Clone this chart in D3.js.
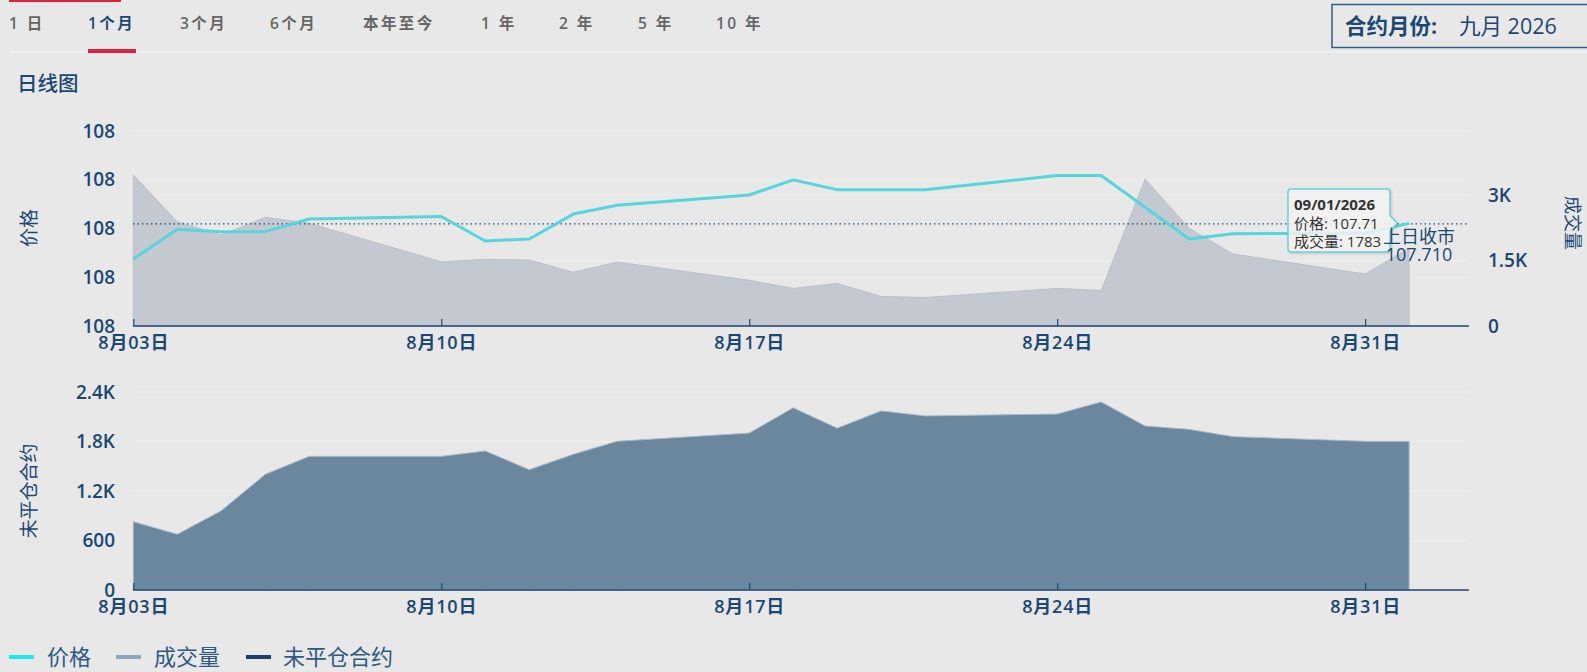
<!DOCTYPE html>
<html><head><meta charset="utf-8">
<script src="https://cdn.jsdelivr.net/npm/d3@7/dist/d3.min.js"></script>
<style>
html,body{margin:0;padding:0;background:#e8e8e8;}
svg{display:block;font-family:"Open Sans","Noto Sans CJK SC",sans-serif;}
</style></head>
<body><svg id="c" width="1587" height="672"></svg>
<script>
// ---- data ----
const dates = ["2026-08-03","2026-08-04","2026-08-05","2026-08-06","2026-08-07",
  "2026-08-10","2026-08-11","2026-08-12","2026-08-13","2026-08-14",
  "2026-08-17","2026-08-18","2026-08-19","2026-08-20","2026-08-21",
  "2026-08-24","2026-08-25","2026-08-26","2026-08-27","2026-08-28",
  "2026-08-31","2026-09-01"];
const price = [107.638,107.699,107.694,107.694,107.720,
  107.725,107.675,107.679,107.730,107.748,
  107.769,107.800,107.780,107.780,107.780,
  107.809,107.809,107.744,107.679,107.690,
  107.691,107.711];
const volume = [3458,2389,2084,2489,2352,
  1473,1527,1511,1232,1463,
  1047,861,975,676,653,
  861,815,3364,2237,1649,
  1191,1783];
const openInterest = [828,675,961,1402,1620,
  1620,1685,1459,1644,1803,
  1902,2208,1962,2171,2110,
  2133,2279,1988,1947,1859,
  1802,1802];
const prevClose = 107.71;
const xTickDates = ["2026-08-03","2026-08-10","2026-08-17","2026-08-24","2026-08-31"];
const priceTicks = [107.5,107.6,107.7,107.8,107.9];
const volumeTicks = [0,1500,3000];
const oiTicks = [0,600,1200,1800,2400];
const tabs = ["1 日","1个月","3个月","6个月","本年至今","1 年","2 年","5 年","10 年"];
const legendItems = ["价格","成交量","未平仓合约"];

// ---- setup ----
const parse = d3.timeParse("%Y-%m-%d");
const rows = dates.map((d,i)=>({date:parse(d),price:price[i],volume:volume[i],oi:openInterest[i]}));
const svg = d3.select("#c");
const navy = "#1a4876";
const kFmt = v => v>=1000 ? (v/1000)+"K" : String(v);

// tabs
const tabX = [9,88,180,270,363,481,559,638,716];
svg.append("rect").attr("x",9).attr("y",0).attr("width",112).attr("height",2).attr("fill","#e0203c");
svg.selectAll("text.tab").data(tabs).join("text").attr("class","tab")
  .attr("x",(d,i)=>tabX[i]).attr("y",29)
  .attr("font-size",15.5).attr("font-weight",600).attr("letter-spacing",2.4)
  .attr("fill",(d,i)=>i===1?navy:"#666666").text(d=>d);
svg.append("rect").attr("x",9).attr("y",51).attr("width",1578).attr("height",2).attr("fill","#efefef");
svg.append("rect").attr("x",88).attr("y",49).attr("width",48).attr("height",4).attr("fill","#e0203c");
// contract box
svg.append("rect").attr("x",1332).attr("y",4.5).attr("width",270).attr("height",43)
  .attr("fill","none").attr("stroke","#2e5e8c").attr("stroke-width",1.5);
svg.append("text").attr("x",1345).attr("y",34).attr("font-size",21.5).attr("font-weight",700).attr("fill",navy).text("合约月份:");
svg.append("text").attr("x",1459).attr("y",34).attr("font-size",21.5).attr("fill",navy).text("九月 2026");
svg.append("text").attr("x",17).attr("y",91).attr("font-size",20.5).attr("font-weight",500).attr("fill",navy).text("日线图");

// scales
const x = d3.scaleTime().domain([parse("2026-08-03"), new Date(2026,8,2,8,40)]).range([133.3,1469]);
const yP = d3.scaleLinear().domain([107.5,107.9]).range([326.5,131]);
const yV = d3.scaleLinear().domain([0,4500]).range([326,129.5]);
const yO = d3.scaleLinear().domain([0,2400]).range([590,392]);

// ---- top chart ----
const topG = svg.append("g");
topG.append("g").selectAll("line").data(priceTicks.slice(1)).join("line")
  .attr("x1",133).attr("x2",1469).attr("y1",d=>yP(d)).attr("y2",d=>yP(d))
  .attr("stroke","#eeeeee").attr("stroke-width",1);
topG.append("g").selectAll("line").data(volumeTicks.slice(1)).join("line")
  .attr("x1",133).attr("x2",1469).attr("y1",d=>yV(d)).attr("y2",d=>yV(d))
  .attr("stroke","#eeeeee").attr("stroke-width",1);
topG.append("path").datum(rows)
  .attr("d",d3.area().x(d=>x(d.date)).y0(yV(0)).y1(d=>yV(d.volume)))
  .attr("fill","#c4c9d1").attr("stroke","#bcc1c9").attr("stroke-width",1);
topG.append("line").attr("x1",133).attr("x2",1469).attr("y1",yP(prevClose)).attr("y2",yP(prevClose))
  .attr("stroke",navy).attr("stroke-width",1.3).attr("stroke-dasharray","1.5,3");
topG.append("path").datum(rows)
  .attr("d",d3.line().x(d=>x(d.date)).y(d=>yP(d.price)))
  .attr("fill","none").attr("stroke","#57d4dc").attr("stroke-width",3).attr("stroke-linejoin","round");

function xAxis(g, y){
  g.attr("transform",`translate(0,${y})`)
   .call(d3.axisBottom(x).tickValues(xTickDates.map(parse)).tickFormat(d3.timeFormat("%-m月%d日"))
     .tickSizeInner(-7).tickSizeOuter(0).tickPadding(10));
  g.select(".domain").remove();
  g.append("line").attr("x1",133).attr("x2",1469).attr("stroke",navy).attr("stroke-width",1.5);
  g.selectAll(".tick line").attr("stroke",navy).attr("stroke-width",1.2);
  g.selectAll(".tick text").attr("fill",navy).attr("font-size",18).attr("font-weight",600)
    .attr("letter-spacing",0.8)
    .attr("font-family","'Open Sans','Noto Sans CJK SC',sans-serif");
}
topG.append("g").call(g=>xAxis(g,326));
const lp = topG.append("g").attr("transform","translate(133,0)")
  .call(d3.axisLeft(yP).tickValues(priceTicks).tickFormat(d3.format(".0f")).tickSize(0).tickPadding(18));
lp.select(".domain").remove();
lp.selectAll("text").attr("fill",navy).attr("font-size",19).attr("font-weight",600).attr("font-family","'Open Sans',sans-serif");
const rv = topG.append("g").attr("transform","translate(1469,0)")
  .call(d3.axisRight(yV).tickValues(volumeTicks).tickFormat(kFmt).tickSize(0).tickPadding(19));
rv.select(".domain").remove();
rv.selectAll("text").attr("fill",navy).attr("font-size",19).attr("font-weight",600).attr("font-family","'Open Sans',sans-serif");
svg.append("text").attr("transform","translate(36,228) rotate(-90)").attr("text-anchor","middle")
  .attr("font-size",19).attr("fill",navy).text("价格");
svg.append("text").attr("transform","translate(1566,223) rotate(90)").attr("text-anchor","middle")
  .attr("font-size",18).attr("fill",navy).text("成交量");

// tooltip
const last = rows[rows.length-1];
const tx = 1288, ty = 189, tw = 102, th = 63;
const ax = x(last.date) - 12, ayc = yP(last.price);
const tip = topG.append("g");
tip.append("path")
  .attr("d",`M${tx+3},${ty} H${tx+tw-3} Q${tx+tw},${ty} ${tx+tw},${ty+3} V${ayc-8} L${ax},${ayc} L${tx+tw},${ayc+8} V${ty+th-3} Q${tx+tw},${ty+th} ${tx+tw-3},${ty+th} H${tx+3} Q${tx},${ty+th} ${tx},${ty+th-3} V${ty+3} Q${tx},${ty} ${tx+3},${ty} Z`)
  .attr("fill","rgba(247,247,247,0.85)").attr("stroke","#63d3da").attr("stroke-width",1.5)
  .style("filter","drop-shadow(1px 1px 1px rgba(0,0,0,0.15))");
const fmtTip = d3.timeFormat("%m/%d/%Y");
tip.append("text").attr("x",tx+6).attr("y",ty+21).attr("font-size",15).attr("font-weight",700).attr("fill","#333").text(fmtTip(last.date));
tip.append("text").attr("x",tx+6).attr("y",ty+40).attr("font-size",15).attr("fill","#333").text("价格: "+last.price.toFixed(2));
tip.append("text").attr("x",tx+6).attr("y",ty+58).attr("font-size",15).attr("fill","#333").text("成交量: "+last.volume);
topG.append("text").attr("x",1419).attr("y",243).attr("text-anchor","middle").attr("font-size",18).attr("fill",navy).text("上日收市");
topG.append("text").attr("x",1419).attr("y",261).attr("text-anchor","middle").attr("font-size",18).attr("fill",navy).text(prevClose.toFixed(3));

// ---- bottom chart ----
const bot = svg.append("g");
bot.append("g").selectAll("line").data(oiTicks.slice(1)).join("line")
  .attr("x1",133).attr("x2",1469).attr("y1",d=>yO(d)).attr("y2",d=>yO(d))
  .attr("stroke","#eeeeee").attr("stroke-width",1.2);
bot.append("path").datum(rows)
  .attr("d",d3.area().x(d=>x(d.date)).y0(yO(0)).y1(d=>yO(d.oi)))
  .attr("fill","#6a879e").attr("stroke","#a9b9c8").attr("stroke-width",1);
bot.append("g").call(g=>xAxis(g,590));
const lo = bot.append("g").attr("transform","translate(133,0)")
  .call(d3.axisLeft(yO).tickValues(oiTicks).tickFormat(kFmt).tickSize(0).tickPadding(18));
lo.select(".domain").remove();
lo.selectAll("text").attr("fill",navy).attr("font-size",19).attr("font-weight",600).attr("font-family","'Open Sans',sans-serif");
svg.append("text").attr("transform","translate(36,491) rotate(-90)").attr("text-anchor","middle")
  .attr("font-size",19).attr("fill",navy).text("未平仓合约");

// ---- legend ----
const legColors = ["#1ee8f0","#8aa7c2","#1a3f6b"];
const legLineX = [9,116,246], legTextX = [47,154,283];
const lg = svg.append("g");
lg.selectAll("rect").data(legendItems).join("rect")
  .attr("x",(d,i)=>legLineX[i]).attr("y",655).attr("width",25).attr("height",4).attr("fill",(d,i)=>legColors[i]);
lg.selectAll("text").data(legendItems).join("text")
  .attr("x",(d,i)=>legTextX[i]).attr("y",665).attr("font-size",22).attr("fill","#2d5a85").text(d=>d);
</script></body></html>
